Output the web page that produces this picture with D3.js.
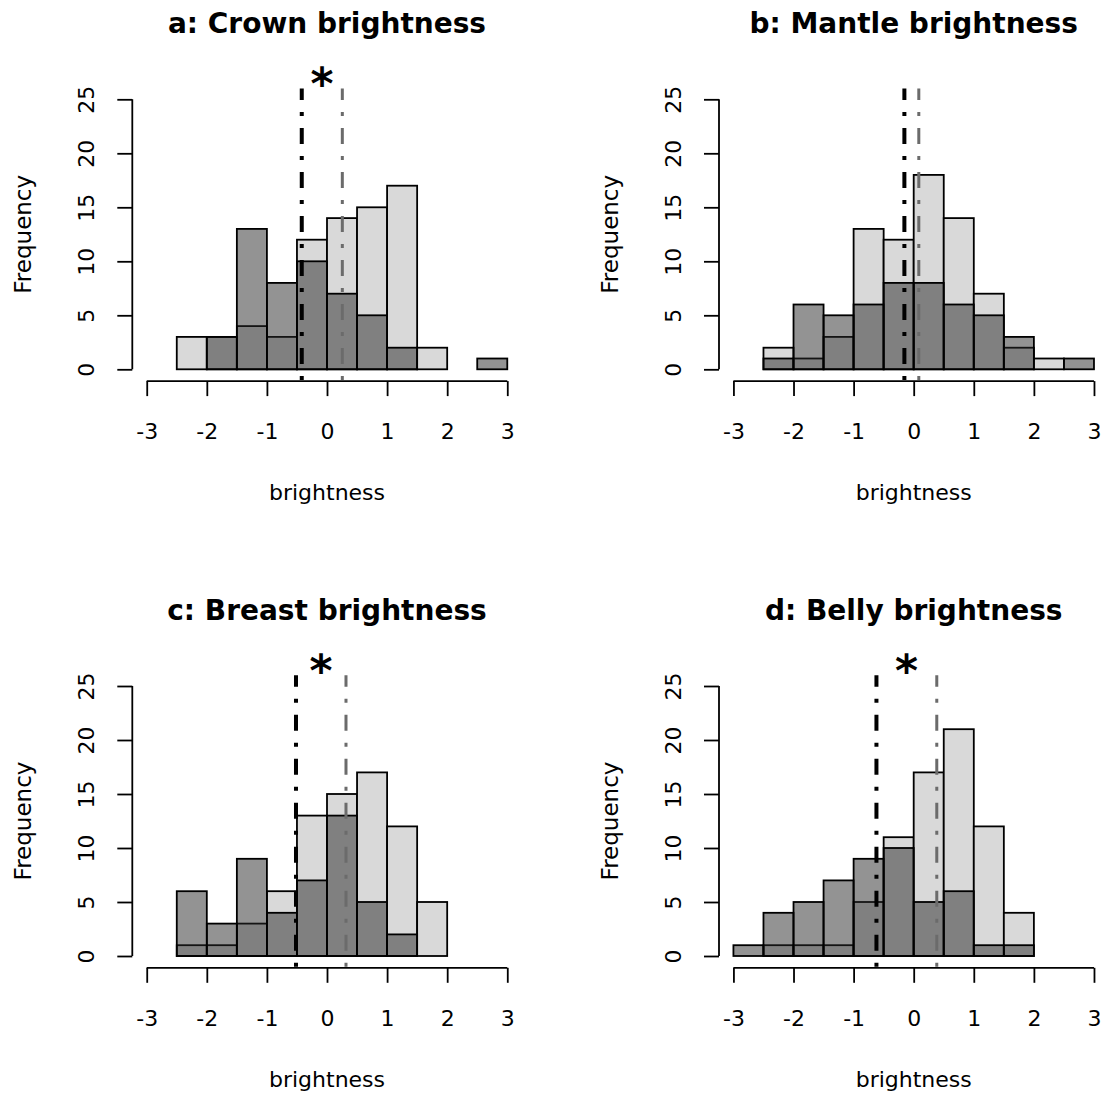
<!DOCTYPE html>
<html>
<head>
<meta charset="utf-8">
<script src="https://cdn.jsdelivr.net/npm/d3@7"></script>
<style>
  html, body { margin: 0; padding: 0; background: #ffffff; }
  svg { display: block; }
</style>
</head>
<body>
<svg id="chart" width="1101" height="1100"></svg>
<script>
// Four overlaid histograms of standardised plumage brightness.
// Light bars: first group; dark translucent bars: second group.

const panelTitles = ["a: Crown brightness", "b: Mantle brightness", "c: Breast brightness", "d: Belly brightness"];

// bin breaks for each panel (width 0.5)
const crownBreaks  = [-2.5, -2, -1.5, -1, -0.5, 0, 0.5, 1, 1.5, 2, 2.5, 3];
const mantleBreaks = [-2.5, -2, -1.5, -1, -0.5, 0, 0.5, 1, 1.5, 2, 2.5, 3];
const breastBreaks = [-2.5, -2, -1.5, -1, -0.5, 0, 0.5, 1, 1.5, 2];
const bellyBreaks  = [-3, -2.5, -2, -1.5, -1, -0.5, 0, 0.5, 1, 1.5, 2];

// counts per bin, light group
const crownLight  = [3, 3, 4, 3, 12, 14, 15, 17, 2, 0, 0];
const mantleLight = [2, 1, 3, 13, 12, 18, 14, 7, 2, 1, 0];
const breastLight = [1, 1, 3, 6, 13, 15, 17, 12, 5];
const bellyLight  = [0, 1, 1, 1, 5, 11, 17, 21, 12, 4];

// counts per bin, dark group
const crownDark  = [0, 3, 13, 8, 10, 7, 5, 2, 0, 0, 1];
const mantleDark = [1, 6, 5, 6, 8, 8, 6, 5, 3, 0, 1];
const breastDark = [6, 3, 9, 4, 7, 13, 5, 2, 0];
const bellyDark  = [1, 4, 5, 7, 9, 10, 5, 6, 1, 1];

// group means (vertical dot-dash lines)
const darkMeans  = [-0.42, -0.155, -0.516, -0.62];
const lightMeans = [0.255, 0.085, 0.316, 0.384];
const significant = [true, false, true, true];

const xTicks = [-3, -2, -1, 0, 1, 2, 3];
const yTicks = [0, 5, 10, 15, 20, 25];
const xLabel = "brightness";
const yLabel = "Frequency";

const breaksList = [crownBreaks, mantleBreaks, breastBreaks, bellyBreaks];
const lightList  = [crownLight, mantleLight, breastLight, bellyLight];
const darkList   = [crownDark, mantleDark, breastDark, bellyDark];

const svg = d3.select("#chart");
const step = 586.7;           // distance between panel origins
const FONT = "'DejaVu Sans', 'Liberation Sans', sans-serif";

panelTitles.forEach((title, i) => {
  const col = i % 2, row = Math.floor(i / 2);
  const g = svg.append("g").attr("transform", `translate(${col * step},${row * step})`);

  // plot region spans the data range plus 4% on each side
  const x = d3.scaleLinear().domain([-3.24, 3.24]).range([132.3, 521.7]);
  const y = d3.scaleLinear().domain([-1, 26]).range([380.1, 88.5]);

  const br = breaksList[i];
  const bins = (counts) => counts.map((c, k) => ({ x0: br[k], x1: br[k + 1], n: c })).filter(d => d.n > 0);

  // light histogram
  g.append("g").selectAll("rect").data(bins(lightList[i])).join("rect")
    .attr("x", d => x(d.x0)).attr("width", d => x(d.x1) - x(d.x0))
    .attr("y", d => y(d.n)).attr("height", d => y(0) - y(d.n))
    .attr("fill", "#d9d9d9").attr("stroke", "#000").attr("stroke-width", 1.8);

  // dark translucent histogram
  g.append("g").selectAll("rect").data(bins(darkList[i])).join("rect")
    .attr("x", d => x(d.x0)).attr("width", d => x(d.x1) - x(d.x0))
    .attr("y", d => y(d.n)).attr("height", d => y(0) - y(d.n))
    .attr("fill", "rgba(40,40,40,0.5)").attr("stroke", "#000").attr("stroke-width", 1.8);

  // mean lines, drawn bottom to top
  const meanLine = (v, color, w) => g.append("line")
    .attr("x1", x(v)).attr("x2", x(v))
    .attr("y1", y(-1)).attr("y2", y(26))
    .attr("stroke", color).attr("stroke-width", w)
    .attr("stroke-dasharray", "4,12,16,12");
  meanLine(darkMeans[i], "#000", 4);
  meanLine(lightMeans[i], "#6b6b6b", 3);

  if (significant[i]) {
    g.append("text")
      .attr("x", x((darkMeans[i] + lightMeans[i]) / 2))
      .attr("y", y(27.25) + 24)
      .attr("text-anchor", "middle")
      .attr("font-family", FONT).attr("font-weight", "bold").attr("font-size", 44)
      .text("*");
  }

  // y axis
  const yAxis = g.append("g").attr("transform", `translate(${x(-3.24)},0)`)
    .call(d3.axisLeft(y).tickValues(yTicks).tickSize(15).tickSizeOuter(0).tickFormat(d => String(d)));
  yAxis.select(".domain").attr("d", `M0,${y(0)}V${y(25)}`);
  yAxis.selectAll("path, line").attr("stroke", "#000").attr("stroke-width", 1.8);
  yAxis.selectAll("text")
    .attr("x", null).attr("dy", null)
    .attr("transform", "translate(-38,0) rotate(-90)")
    .attr("text-anchor", "middle")
    .attr("font-family", FONT).attr("font-size", 22).attr("fill", "#000");

  // x axis
  const xAxis = g.append("g").attr("transform", `translate(0,${y(-1) + 1})`)
    .call(d3.axisBottom(x).tickValues(xTicks).tickSize(15).tickSizeOuter(0).tickFormat(d => String(d)));
  xAxis.select(".domain").attr("d", `M${x(-3)},0H${x(3)}`);
  xAxis.selectAll("path, line").attr("stroke", "#000").attr("stroke-width", 1.8);
  xAxis.selectAll("text")
    .attr("y", 58).attr("dy", null)
    .attr("font-family", FONT).attr("font-size", 22).attr("fill", "#000");

  const cx = (x(-3.24) + x(3.24)) / 2;
  const cy = (y(-1) + y(26)) / 2;

  g.append("text").attr("x", cx).attr("y", 500)
    .attr("text-anchor", "middle").attr("font-family", FONT).attr("font-size", 22)
    .text(xLabel);

  g.append("text").attr("transform", `translate(31,${cy}) rotate(-90)`)
    .attr("text-anchor", "middle").attr("font-family", FONT).attr("font-size", 23)
    .text(yLabel);

  g.append("text").attr("x", cx).attr("y", 33)
    .attr("text-anchor", "middle").attr("font-family", FONT).attr("font-weight", "bold").attr("font-size", 28)
    .text(title);
});
</script>
</body>
</html>
